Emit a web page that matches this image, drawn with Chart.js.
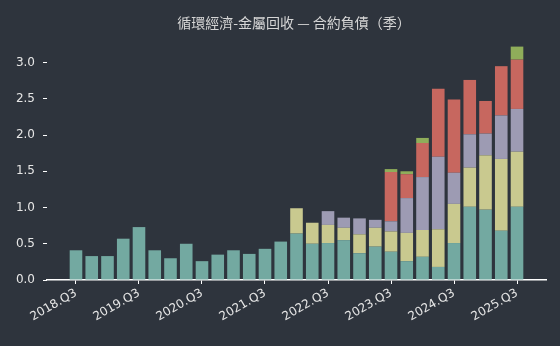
<!DOCTYPE html>
<html>
<head>
<meta charset="utf-8">
<script src="https://cdn.jsdelivr.net/npm/chart.js@4"></script>
<style>
  html, body { margin: 0; padding: 0; background: #2e343d; }
  #wrap { width: 560px; height: 346px; }
</style>
</head>
<body>
<div id="wrap"><canvas id="chart" width="560" height="346"></canvas></div>
<script>
// quarters 2018.Q3 .. 2025.Q3
const quarters = [
  '2018.Q3','2018.Q4','2019.Q1','2019.Q2','2019.Q3','2019.Q4','2020.Q1','2020.Q2',
  '2020.Q3','2020.Q4','2021.Q1','2021.Q2','2021.Q3','2021.Q4','2022.Q1','2022.Q2',
  '2022.Q3','2022.Q4','2023.Q1','2023.Q2','2023.Q3','2023.Q4','2024.Q1','2024.Q2',
  '2024.Q3','2024.Q4','2025.Q1','2025.Q2','2025.Q3'
];
const tickQuarters = ['2018.Q3','2019.Q3','2020.Q3','2021.Q3','2022.Q3','2023.Q3','2024.Q3','2025.Q3'];

const seriesA = [0.41,0.33,0.33,0.57,0.73,0.41,0.30,0.50,0.26,0.35,0.41,0.36,0.43,0.53,0.64,0.50,
                 0.51,0.55,0.37,0.46,0.39,0.26,0.32,0.18,0.51,1.01,0.97,0.68,1.01];
const seriesB = [0,0,0,0,0,0,0,0,0,0,0,0,0,0,0.35,0.29,
                 0.25,0.17,0.26,0.26,0.28,0.39,0.37,0.52,0.54,0.54,0.75,0.99,0.76];
const seriesC = [0,0,0,0,0,0,0,0,0,0,0,0,0,0,0,0,
                 0.19,0.14,0.22,0.11,0.14,0.48,0.73,1.00,0.43,0.46,0.30,0.60,0.59];
const seriesD = [0,0,0,0,0,0,0,0,0,0,0,0,0,0,0,0,
                 0,0,0,0,0.68,0.33,0.47,0.94,1.01,0.75,0.45,0.68,0.68];
const seriesE = [0,0,0,0,0,0,0,0,0,0,0,0,0,0,0,0,
                 0,0,0,0,0.04,0.04,0.07,0,0,0,0,0,0.18];

const colors = ['#73a9a1', '#c9c98f', '#9d9bb3', '#c7675f', '#8fad5a'];
const title = '循環經濟-金屬回收 — 合約負債（季）';

const toPoints = arr => arr.map((v, i) => ({ x: i, y: v }));

const titlePlugin = {
  id: 'topTitle',
  afterDraw(chart) {
    const c = chart.ctx;
    c.save();
    c.fillStyle = '#d6d6d6';
    c.font = '14px "Noto Sans CJK TC", "DejaVu Sans", sans-serif';
    c.textAlign = 'center';
    c.textBaseline = 'middle';
    c.fillText(title, 294, 23);
    c.restore();
  }
};

const bg = {
  id: 'bg',
  beforeDraw(chart) {
    const c = chart.ctx;
    c.save();
    c.fillStyle = '#2e343d';
    c.fillRect(0, 0, chart.width, chart.height);
    c.restore();
  }
};

const ctx = document.getElementById('chart').getContext('2d');
new Chart(ctx, {
  type: 'bar',
  data: {
    datasets: [seriesA, seriesB, seriesC, seriesD, seriesE].map((s, i) => ({
      data: toPoints(s),
      backgroundColor: colors[i],
      borderWidth: 0,
      barPercentage: 0.8,
      categoryPercentage: 1.0
    }))
  },
  options: {
    responsive: false,
    animation: false,
    layout: { padding: { top: 35, right: 14, left: 0, bottom: 0 } },
    plugins: { legend: { display: false }, tooltip: { enabled: false } },
    scales: {
      x: {
        type: 'linear',
        stacked: true,
        offset: false,
        min: -1.84,
        max: 29.84,
        afterBuildTicks: scale => {
          scale.ticks = tickQuarters.map(q => ({ value: quarters.indexOf(q) }));
        },
        afterFit: scale => { scale.height = 66; },
        ticks: {
          color: '#e6e6e6',
          font: { family: 'DejaVu Sans', size: 12 },
          minRotation: 30,
          maxRotation: 30,
          padding: 2,
          callback: v => quarters[v]
        },
        grid: { offset: false, drawOnChartArea: false, color: '#ffffff', tickLength: 4, lineWidth: 1 },
        border: { display: true, color: '#ffffff', width: 1.5 }
      },
      y: {
        stacked: true,
        min: 0,
        max: 3.38,
        afterBuildTicks: scale => {
          scale.ticks = [0, 0.5, 1, 1.5, 2, 2.5, 3].map(v => ({ value: v }));
        },
        afterFit: scale => { scale.width = 47; },
        ticks: {
          color: '#e6e6e6',
          font: { family: 'DejaVu Sans', size: 12 },
          padding: 8,
          callback: v => v.toFixed(1)
        },
        grid: { drawOnChartArea: false, color: '#ffffff', tickLength: 4, lineWidth: 1 },
        border: { display: false }
      }
    }
  },
  plugins: [bg, titlePlugin]
});
</script>
</body>
</html>
